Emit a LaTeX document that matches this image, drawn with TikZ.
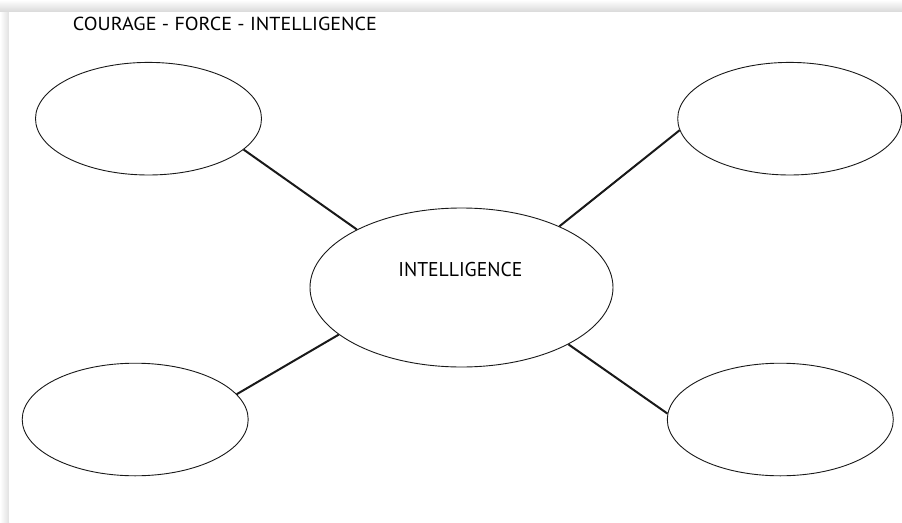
\documentclass[tikz,border=0pt]{standalone}
\usepackage{fontspec}
\setmainfont{PT Sans}
\usetikzlibrary{shapes.geometric}
\tikzset{
  bubble/.style={ellipse, draw=black!90, line width=0.9pt, inner sep=0pt,
                 minimum width=226pt, minimum height=112.6pt},
  bigbubble/.style={ellipse, draw=black!90, line width=0.9pt, inner sep=0pt,
                 minimum width=303pt, minimum height=159pt},
  link/.style={draw=black!90, line width=2pt},
  label/.style={inner sep=0pt, text=black}
}
\begin{document}
\begin{tikzpicture}[x=1pt, y=-1pt]
  \useasboundingbox (0,0) rectangle (902,522);
  % page shadow
  \shade[top color=white, bottom color=black!15] (0,0) rectangle (902,12);
  \shade[left color=white, right color=black!12] (0,12) rectangle (9,522);
  \fill[white] (9,12) rectangle (902,522);

  % title
  \node[label, anchor=base west] (title) at (72.7,30.7)
    {\resizebox{304pt}{13.4pt}{COURAGE - FORCE - INTELLIGENCE}};

  % bubbles
  \node[bigbubble] (c) at (461.5,287.5) {};
  \node[label, anchor=base] (ctext) at (460.3,276.7)
    {\resizebox{124pt}{14.2pt}{INTELLIGENCE}};
  \node[bubble] (tl) at (148.5,118.7) {};
  \node[bubble, minimum width=224pt] (tr) at (789.7,118.7) {};
  \node[bubble] (bl) at (135.2,419.5) {};
  \node[bubble] (br) at (780.3,419.5) {};

  % connectors
  \draw[link] (tl.-18.3) -- (c.151.25);
  \draw[link] (tr.186.8) -- (c.32.4);
  \draw[link] (bl.14.5) -- (c.201.35);
  \draw[link] (br.177.7) -- (c.332.8);
\end{tikzpicture}
\end{document}
